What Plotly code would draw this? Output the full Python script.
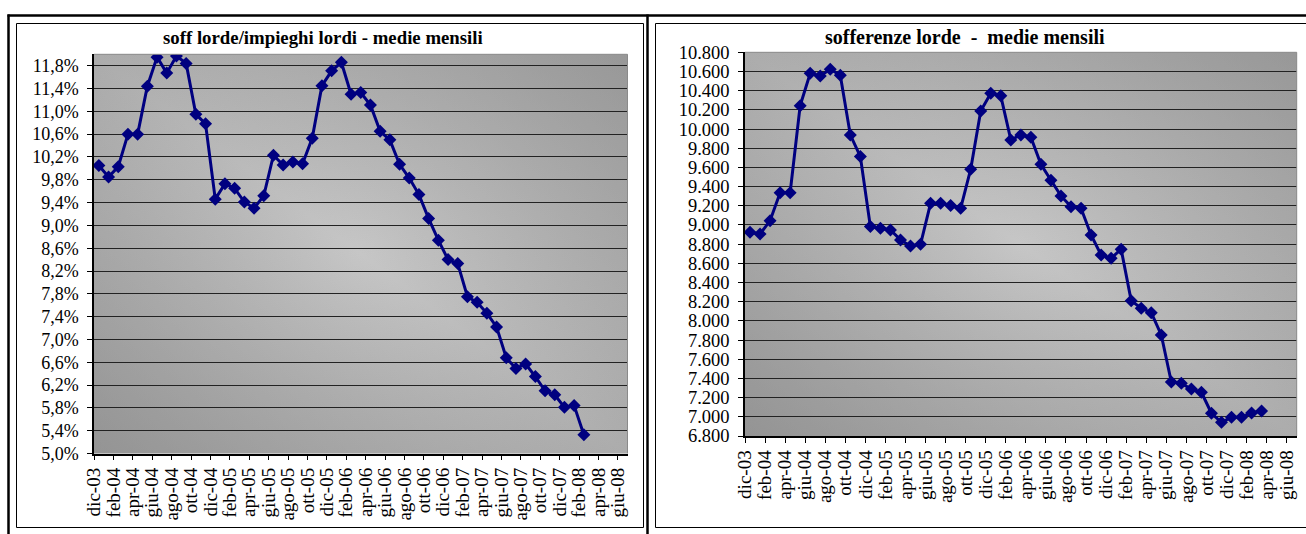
import base64
import numpy as np
import plotly.graph_objects as go

# Mesi con dato (medie mensili), da dic-03
mesi_rapporto = [
    "dic-03", "gen-04", "feb-04", "mar-04", "apr-04", "mag-04", "giu-04", "lug-04", "ago-04", "set-04",
    "ott-04", "nov-04", "dic-04", "gen-05", "feb-05", "mar-05", "apr-05", "mag-05", "giu-05", "lug-05",
    "ago-05", "set-05", "ott-05", "nov-05", "dic-05", "gen-06", "feb-06", "mar-06", "apr-06", "mag-06",
    "giu-06", "lug-06", "ago-06", "set-06", "ott-06", "nov-06", "dic-06", "gen-07", "feb-07", "mar-07",
    "apr-07", "mag-07", "giu-07", "lug-07", "ago-07", "set-07", "ott-07", "nov-07", "dic-07", "gen-08",
    "feb-08",
]
mesi_sofferenze = mesi_rapporto + ["mar-08"]

# soff lorde / impieghi lordi (%)
rapporto = [
    10.05, 9.85, 10.03, 10.60, 10.60, 11.44, 11.95, 11.67, 11.97, 11.84,
    10.95, 10.78, 9.46, 9.73, 9.65, 9.41, 9.30, 9.52, 10.23, 10.06,
    10.11, 10.08, 10.53, 11.45, 11.71, 11.86, 11.30, 11.33, 11.11, 10.65,
    10.50, 10.07, 9.83, 9.54, 9.12, 8.74, 8.40, 8.33, 7.75, 7.65,
    7.46, 7.22, 6.68, 6.49, 6.57, 6.35, 6.10, 6.03, 5.81, 5.84,
    5.33,
]

# sofferenze lorde
sofferenze = [
    8924, 8906, 9045, 9337, 9337, 10244, 10582, 10554, 10624, 10561,
    9939, 9713, 8983, 8966, 8948, 8844, 8781, 8799, 9226, 9226,
    9202, 9174, 9581, 10189, 10374, 10346, 9887, 9939, 9915, 9633,
    9466, 9303, 9191, 9174, 8896, 8687, 8653, 8747, 8211, 8132,
    8086, 7853, 7363, 7349, 7290, 7256, 7037, 6943, 6995, 6995,
    7040, 7061,
]

# Etichette dell'asse dei tempi (una ogni due mesi)
etichette_asse = [
    "dic-03", "feb-04", "apr-04", "giu-04", "ago-04", "ott-04", "dic-04", "feb-05", "apr-05", "giu-05",
    "ago-05", "ott-05", "dic-05", "feb-06", "apr-06", "giu-06", "ago-06", "ott-06", "dic-06", "feb-07",
    "apr-07", "giu-07", "ago-07", "ott-07", "dic-07", "feb-08", "apr-08", "giu-08",
]

W, H = 1306, 534
SERIF = "Liberation Serif"
NAVY = "#000080"


def px_x(v):
    return v / W


def px_y(v):
    return 1 - v / H


# Each month occupies one unit on the time axis; points sit mid-month
pos_rapporto = np.arange(len(mesi_rapporto)) + 0.5
pos_sofferenze = np.arange(len(mesi_sofferenze)) + 0.5
tick_pos = [2 * i for i in range(len(etichette_asse))]
x_range = [0, 2 * len(etichette_asse) - 1]

# Gray diagonal gradient used as the plot-area fill
svg = (
    '<svg xmlns="http://www.w3.org/2000/svg" width="100" height="100" '
    'viewBox="0 0 100 100" preserveAspectRatio="none">'
    '<defs>'
    '<radialGradient id="r" cx="0.5" cy="0.5" r="0.75">'
    '<stop offset="0" stop-color="#c6c6c6"/><stop offset="1" stop-color="#aaaaaa"/>'
    '</radialGradient>'
    '<linearGradient id="l" x1="0" y1="1" x2="1" y2="0">'
    '<stop offset="0" stop-color="#7c7c7c" stop-opacity="0.5"/>'
    '<stop offset="0.5" stop-color="#7c7c7c" stop-opacity="0"/>'
    '<stop offset="1" stop-color="#7c7c7c" stop-opacity="0.42"/>'
    '</linearGradient>'
    '</defs>'
    '<rect width="100" height="100" fill="url(#r)"/>'
    '<rect width="100" height="100" fill="url(#l)"/>'
    '</svg>'
)
bg_src = "data:image/svg+xml;base64," + base64.b64encode(svg.encode()).decode()

fig = go.Figure()

line_style = dict(color=NAVY, width=3)
marker_style = dict(symbol="diamond", size=10, color=NAVY)

fig.add_trace(go.Scatter(
    x=pos_rapporto, y=rapporto, text=mesi_rapporto, mode="lines+markers",
    line=line_style, marker=marker_style, xaxis="x", yaxis="y",
    hovertemplate="%{text}: %{y:.2f}%<extra></extra>", showlegend=False,
))
fig.add_trace(go.Scatter(
    x=pos_sofferenze, y=sofferenze, text=mesi_sofferenze, mode="lines+markers",
    line=line_style, marker=marker_style, xaxis="x2", yaxis="y2",
    hovertemplate="%{text}: %{y:,.0f}<extra></extra>", showlegend=False,
))

# Plot-area pixel boxes
L = dict(x0=94, x1=627.5, y0=54.3, y1=453.5)
R = dict(x0=745, x1=1296.7, y0=52.3, y1=436)

common_x = dict(
    range=x_range, tickmode="array", tickvals=tick_pos, ticktext=etichette_asse,
    tickangle=-90, ticks="outside", ticklen=5, tickcolor="#000", tickwidth=1,
    showline=True, linecolor="#000", linewidth=1.5, showgrid=False, zeroline=False,
    fixedrange=True, automargin=False,
    tickfont=dict(family=SERIF, size=19, color="#000"),
)
common_y = dict(
    ticks="outside", ticklen=5, tickcolor="#000", tickwidth=1,
    showline=True, linecolor="#000", linewidth=1.5,
    showgrid=True, gridcolor="#222222", gridwidth=1.3, zeroline=False, fixedrange=True,
    automargin=False, ticklabelstandoff=5,
)

fig.update_layout(
    template="none",
    width=W, height=H, autosize=False, margin=dict(l=0, r=0, t=0, b=0, pad=0),
    paper_bgcolor="white", plot_bgcolor="#b2b2b2",
    separators=",.",
    xaxis=dict(common_x, domain=[px_x(L["x0"]), px_x(L["x1"])], anchor="y"),
    yaxis=dict(common_y, domain=[px_y(L["y1"]), px_y(L["y0"])], anchor="x",
               range=[5.0, 12.0], tick0=5.0, dtick=0.4, tickformat=".1f", ticksuffix="%",
               tickfont=dict(family=SERIF, size=18, color="#000")),
    xaxis2=dict(common_x, domain=[px_x(R["x0"]), px_x(R["x1"])], anchor="y2"),
    yaxis2=dict(common_y, domain=[px_y(R["y1"]), px_y(R["y0"])], anchor="x2",
                range=[6800, 10800], tick0=6800, dtick=200, tickformat=",d",
                tickfont=dict(family=SERIF, size=18.5, color="#000")),
    images=[
        dict(source=bg_src, xref="x domain", yref="y domain", x=0, y=1, sizex=1, sizey=1,
             xanchor="left", yanchor="top", sizing="stretch", layer="below"),
        dict(source=bg_src, xref="x2 domain", yref="y2 domain", x=0, y=1, sizex=1, sizey=1,
             xanchor="left", yanchor="top", sizing="stretch", layer="below"),
    ],
)

# Chart titles
fig.add_annotation(text="soff lorde/impieghi lordi - medie mensili", xref="paper", yref="paper",
                   x=px_x(323), y=px_y(37), showarrow=False,
                   font=dict(family=SERIF, size=18.8, color="#000", weight="bold"),
                   xanchor="center", yanchor="middle")
fig.add_annotation(text="sofferenze lorde \u00a0-\u00a0 medie mensili", xref="paper", yref="paper",
                   x=px_x(965), y=px_y(37), showarrow=False,
                   font=dict(family=SERIF, size=20, color="#000", weight="bold"),
                   xanchor="center", yanchor="middle")

shapes = []
# Gray top/right edges of the two plot areas
for box in (L, R):
    shapes.append(dict(type="line", xref="paper", yref="paper",
                       x0=px_x(box["x0"]), x1=px_x(box["x1"]), y0=px_y(box["y0"]), y1=px_y(box["y0"]),
                       line=dict(color="#8a8a8a", width=1), layer="above"))
    shapes.append(dict(type="line", xref="paper", yref="paper",
                       x0=px_x(box["x1"]), x1=px_x(box["x1"]), y0=px_y(box["y0"]), y1=px_y(box["y1"]),
                       line=dict(color="#8a8a8a", width=1), layer="above"))

# Thin chart frames
thin = dict(color="#000", width=1)
shapes.append(dict(type="rect", xref="paper", yref="paper",
                   x0=px_x(16.5), x1=px_x(643.5), y0=px_y(527.5), y1=px_y(23.5),
                   line=thin, fillcolor="rgba(0,0,0,0)"))
for yy in (23.5, 527.5):
    shapes.append(dict(type="line", xref="paper", yref="paper",
                       x0=px_x(655.5), x1=1, y0=px_y(yy), y1=px_y(yy), line=thin))
shapes.append(dict(type="line", xref="paper", yref="paper",
                   x0=px_x(655.5), x1=px_x(655.5), y0=px_y(23.5), y1=px_y(527.5), line=thin))

# Heavy table rules
heavy = dict(color="#000", width=2.5)
shapes.append(dict(type="line", xref="paper", yref="paper",
                   x0=px_x(7.5), x1=1, y0=px_y(15.5), y1=px_y(15.5), line=heavy))
shapes.append(dict(type="line", xref="paper", yref="paper",
                   x0=px_x(8.5), x1=px_x(8.5), y0=px_y(14.5), y1=0, line=heavy))
shapes.append(dict(type="line", xref="paper", yref="paper",
                   x0=px_x(647.5), x1=px_x(647.5), y0=px_y(14.5), y1=0, line=heavy))

fig.update_layout(shapes=shapes)

fig.write_html("out.html")
